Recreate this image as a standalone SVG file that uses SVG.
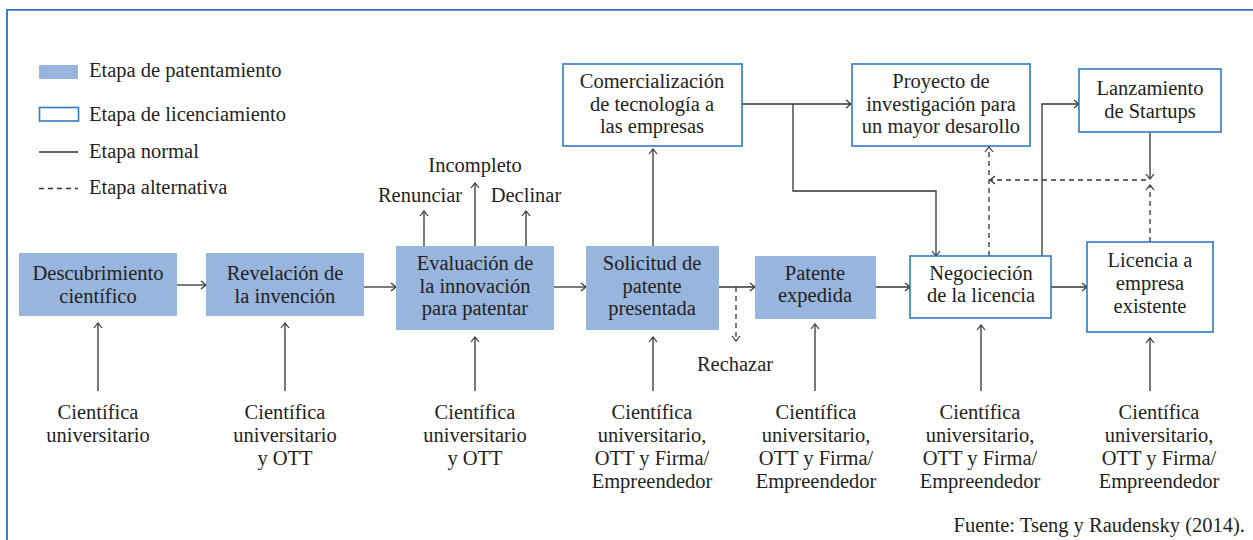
<svg xmlns="http://www.w3.org/2000/svg" width="1253" height="540" viewBox="0 0 1253 540">
<defs>
<style>
text{font-family:"Liberation Serif","Times New Roman",serif;font-size:20.5px;fill:#231f20;}
.c{text-anchor:middle;}
.pat{fill:#98b5dd;stroke:none;}
.lic{fill:#ffffff;stroke:#2f7bc4;stroke-width:1.6;}
.ln{fill:none;stroke:#333;stroke-width:1.3;}
.dl{fill:none;stroke:#333;stroke-width:1.3;stroke-dasharray:5 4;}
.frame{fill:none;stroke:#2f72b8;stroke-width:1.8;}
</style>
<marker id="ah" markerWidth="10" markerHeight="10" refX="6" refY="5" orient="auto" markerUnits="userSpaceOnUse">
<path d="M1,1 L6,5 L1,9" fill="none" stroke="#333" stroke-width="1.2"/>
</marker>
</defs>
<rect width="1253" height="540" fill="#ffffff"/>
<path class="frame" d="M7,540 V9.8 H1253"/>

<g id="legend">
<rect class="pat" x="39" y="65" width="39" height="14"/>
<text x="89" y="77">Etapa de patentamiento</text>
<rect class="lic" x="39.5" y="107.5" width="39" height="13.5"/>
<text x="89" y="121">Etapa de licenciamiento</text>
<line class="ln" x1="39" y1="152" x2="78" y2="152"/>
<text x="89" y="158">Etapa normal</text>
<line class="dl" x1="39" y1="188.5" x2="78" y2="188.5" stroke-dasharray="3 3"/>
<text x="89" y="194">Etapa alternativa</text>
</g>

<g id="connectors">
<path class="ln" d="M177,285 H206" marker-end="url(#ah)"/>
<path class="ln" d="M364,287 H396" marker-end="url(#ah)"/>
<path class="ln" d="M554,287 H586" marker-end="url(#ah)"/>
<path class="ln" d="M719,287 H755" marker-end="url(#ah)"/>
<path class="dl" d="M736,287 V341" marker-end="url(#ah)"/>
<path class="ln" d="M876,287 H910" marker-end="url(#ah)"/>
<path class="ln" d="M1051,287 H1087" marker-end="url(#ah)"/>
<path class="ln" d="M424,246 V211" marker-end="url(#ah)"/>
<path class="ln" d="M475,246 V183" marker-end="url(#ah)"/>
<path class="ln" d="M526,246 V211" marker-end="url(#ah)"/>
<path class="ln" d="M653,246 V149" marker-end="url(#ah)"/>
<path class="ln" d="M742,104 H851" marker-end="url(#ah)"/>
<path class="ln" d="M793,104 V191 H936 V256" marker-end="url(#ah)"/>
<path class="ln" d="M1042,256 V104 H1079" marker-end="url(#ah)"/>
<path class="ln" d="M1150,132 V179" marker-end="url(#ah)"/>
<path class="dl" d="M1150,242 V185" marker-end="url(#ah)"/>
<path class="dl" d="M1146,180 H990" marker-end="url(#ah)"/>
<path class="dl" d="M989,256 V147" marker-end="url(#ah)"/>
<path class="ln" d="M98,391 V323" marker-end="url(#ah)"/>
<path class="ln" d="M285,391 V323" marker-end="url(#ah)"/>
<path class="ln" d="M475,391 V337" marker-end="url(#ah)"/>
<path class="ln" d="M653,391 V337" marker-end="url(#ah)"/>
<path class="ln" d="M815,391 V324" marker-end="url(#ah)"/>
<path class="ln" d="M981,391 V325" marker-end="url(#ah)"/>
<path class="ln" d="M1150,391 V338" marker-end="url(#ah)"/>
</g>

<g id="n-descubrimiento">
<rect class="pat" x="19" y="253" width="158" height="63"/>
<text class="c" x="98" y="280">Descubrimiento</text>
<text class="c" x="98" y="303">científico</text>
</g>
<g id="n-revelacion">
<rect class="pat" x="206" y="253" width="158" height="63"/>
<text class="c" x="285" y="280">Revelación de</text>
<text class="c" x="285" y="303">la invención</text>
</g>
<g id="n-evaluacion">
<rect class="pat" x="396" y="246" width="158" height="84"/>
<text class="c" x="475" y="270">Evaluación de</text>
<text class="c" x="475" y="293">la innovación</text>
<text class="c" x="475" y="315">para patentar</text>
</g>
<g id="n-solicitud">
<rect class="pat" x="586" y="246" width="133" height="84"/>
<text class="c" x="652" y="270">Solicitud de</text>
<text class="c" x="652" y="293">patente</text>
<text class="c" x="652" y="315">presentada</text>
</g>
<g id="n-patente">
<rect class="pat" x="755" y="256" width="121" height="63"/>
<text class="c" x="815" y="280">Patente</text>
<text class="c" x="815" y="302">expedida</text>
</g>
<g id="n-negociacion">
<rect class="lic" x="910" y="256" width="141" height="62"/>
<text class="c" x="981" y="280">Negocieción</text>
<text class="c" x="981" y="302">de la licencia</text>
</g>
<g id="n-licencia">
<rect class="lic" x="1087" y="242" width="126" height="90"/>
<text class="c" x="1150" y="267">Licencia a</text>
<text class="c" x="1150" y="290">empresa</text>
<text class="c" x="1150" y="313">existente</text>
</g>
<g id="n-comercializacion">
<rect class="lic" x="563" y="64" width="179" height="82"/>
<text class="c" x="652" y="88">Comercialización</text>
<text class="c" x="652" y="111">de tecnología a</text>
<text class="c" x="652" y="133">las empresas</text>
</g>
<g id="n-proyecto">
<rect class="lic" x="852" y="64" width="178" height="82"/>
<text class="c" x="941" y="88">Proyecto de</text>
<text class="c" x="941" y="111">investigación para</text>
<text class="c" x="941" y="133">un mayor desarollo</text>
</g>
<g id="n-lanzamiento">
<rect class="lic" x="1079" y="69" width="142" height="63"/>
<text class="c" x="1150" y="95">Lanzamiento</text>
<text class="c" x="1150" y="118">de Startups</text>
</g>

<g id="labels">
<text class="c" x="475" y="172">Incompleto</text>
<text class="c" x="420" y="202">Renunciar</text>
<text class="c" x="526" y="202">Declinar</text>
<text class="c" x="735" y="371">Rechazar</text>
<text class="c" x="98" y="419">Científica</text>
<text class="c" x="98" y="442">universitario</text>
<text class="c" x="285" y="419">Científica</text>
<text class="c" x="285" y="442">universitario</text>
<text class="c" x="285" y="465">y OTT</text>
<text class="c" x="475" y="419">Científica</text>
<text class="c" x="475" y="442">universitario</text>
<text class="c" x="475" y="465">y OTT</text>
<text class="c" x="652" y="419">Científica</text>
<text class="c" x="652" y="442">universitario,</text>
<text class="c" x="652" y="465">OTT y Firma/</text>
<text class="c" x="652" y="488">Empreendedor</text>
<text class="c" x="816" y="419">Científica</text>
<text class="c" x="816" y="442">universitario,</text>
<text class="c" x="816" y="465">OTT y Firma/</text>
<text class="c" x="816" y="488">Empreendedor</text>
<text class="c" x="980" y="419">Científica</text>
<text class="c" x="980" y="442">universitario,</text>
<text class="c" x="980" y="465">OTT y Firma/</text>
<text class="c" x="980" y="488">Empreendedor</text>
<text class="c" x="1159" y="419">Científica</text>
<text class="c" x="1159" y="442">universitario,</text>
<text class="c" x="1159" y="465">OTT y Firma/</text>
<text class="c" x="1159" y="488">Empreendedor</text>
<text x="1245" y="532" text-anchor="end">Fuente: Tseng y Raudensky (2014).</text>
</g>
</svg>
